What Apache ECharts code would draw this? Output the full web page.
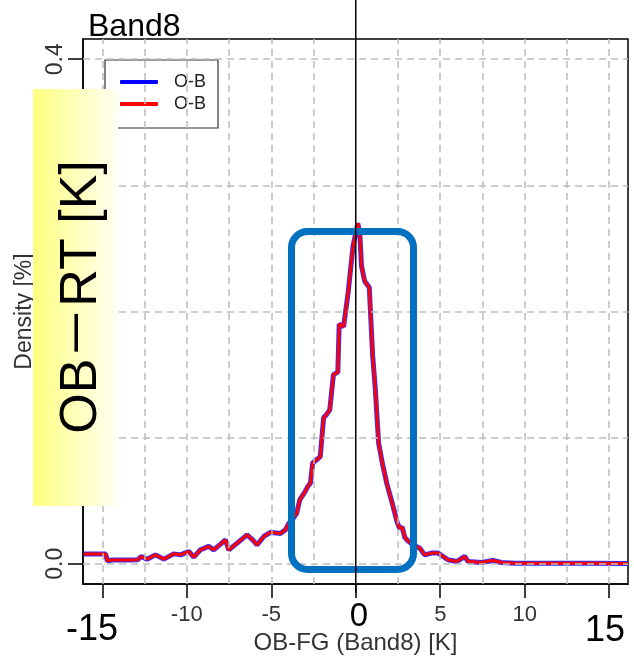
<!DOCTYPE html>
<html>
<head>
<meta charset="utf-8">
<script src="https://cdn.jsdelivr.net/npm/echarts@6/dist/echarts.min.js"></script>
<style>
html,body{margin:0;padding:0;background:#fff}
#main{width:634px;height:657px}
</style>
</head>
<body>
<div id="main"></div>
<script>
// OB-FG offsets [K] and density
var offsets = [-16.1, -14.8, -14.7, -14.4, -13.5, -12.9, -12.7, -12.35, -11.85, -11.36,
    -10.77, -10.37, -9.88, -9.59, -9.19, -8.7, -8.4, -8.0, -7.71, -7.51,
    -7.02, -6.43, -6.1, -5.84, -5.44, -5.05, -4.46, -4.16, -3.96, -3.7,
    -3.5, -3.31, -3.05, -2.85, -2.68, -2.55, -2.35, -2.1, -1.9, -1.75,
    -1.54, -1.32, -1.06, -0.98, -0.72, -0.45, -0.16, 0.12, 0.24, 0.34,
    0.53, 0.8, 1.0, 1.15, 1.35, 1.6, 1.85, 2.2, 2.45, 2.6,
    2.75, 2.9, 3.1, 3.39, 3.79, 4.08, 4.48, 4.87, 5.46, 5.96,
    6.45, 6.65, 7.44, 8.12, 8.62, 9.41, 10.2, 12, 14, 16.1];
var density = [0.0077, 0.0077, 0.0024, 0.003, 0.003, 0.0032, 0.0058, 0.0037, 0.0071, 0.0037,
    0.0079, 0.0071, 0.0098, 0.0053, 0.0111, 0.0138, 0.0111, 0.0156, 0.019, 0.011,
    0.0164, 0.023, 0.019, 0.015, 0.0217, 0.025, 0.024, 0.027, 0.032, 0.036,
    0.04, 0.0508, 0.056, 0.061, 0.064, 0.08, 0.082, 0.085, 0.116, 0.118,
    0.122, 0.15, 0.152, 0.19, 0.188, 0.215, 0.252, 0.27, 0.262, 0.236,
    0.224, 0.219, 0.165, 0.14, 0.096, 0.078, 0.063, 0.046, 0.033, 0.028,
    0.029, 0.021, 0.018, 0.0151, 0.0124, 0.0071, 0.0085, 0.0085, 0.0032, 0.0018,
    0.0058, 0.0018, 0.001, 0.0026, 0.001, 0.0005, 0.0005, 0.0004, 0.0004, 0.0003];

var xTicks = [-15, -10, -5, 0, 5, 10, 15];
var xTickLabels = [-10, -5, 5, 10];
var xGrid = [-15, -12.5, -10, -7.5, -5, -2.5, 2.5, 5, 7.5, 10, 12.5, 15];
var yTicks = [0, 0.1, 0.2, 0.3, 0.4];

var chart = echarts.init(document.getElementById('main'), null, {renderer: 'canvas'});

var points = offsets.map(function (x, i) { return [x, density[i]]; });

var gridMarks = xGrid.map(function (v) { return {xAxis: v}; })
    .concat(yTicks.map(function (v) { return {yAxis: v}; }));

var option = {
    animation: false,
    backgroundColor: '#fff',
    textStyle: {fontFamily: 'Liberation Sans'},
    title: {
        text: 'Band8',
        left: 83,
        top: 6,
        textStyle: {fontSize: 32, fontWeight: 'normal', color: '#000'}
    },
    legend: {
        orient: 'vertical',
        left: 105,
        top: 60,
        backgroundColor: '#fff',
        borderColor: '#333',
        borderWidth: 1.2,
        borderRadius: 0,
        padding: [13, 12, 15, 15],
        itemWidth: 38,
        itemHeight: 4,
        itemGap: 4,
        icon: 'roundRect',
        data: ['O-B blue', 'O-B red'],
        formatter: function () { return 'O-B'; },
        textStyle: {fontSize: 18, color: '#222', padding: [0, 0, 0, 11]}
    },
    grid: {
        left: 83,
        right: 6,
        top: 39,
        bottom: 73,
        outerBoundsMode: 'none',
        show: true,
        borderColor: '#000',
        borderWidth: 1.5
    },
    xAxis: {
        type: 'value',
        min: -16.14,
        max: 16.11,
        name: 'OB-FG (Band8) [K]',
        nameLocation: 'middle',
        nameGap: 47,
        nameTextStyle: {fontSize: 24, color: '#333'},
        axisLine: {show: true, onZero: false, lineStyle: {color: '#000', width: 1.5}},
        axisTick: {customValues: xTicks, length: 14, lineStyle: {color: '#000', width: 1.5}},
        axisLabel: {customValues: xTickLabels, fontSize: 22, color: '#333', margin: 20},
        splitLine: {show: false}
    },
    yAxis: {
        type: 'value',
        min: -0.016,
        max: 0.416,
        name: 'Density [%]',
        nameLocation: 'middle',
        nameGap: 47,
        nameTextStyle: {fontSize: 23, color: '#333'},
        axisLine: {show: true, onZero: false, lineStyle: {color: '#000', width: 1.5}},
        axisTick: {customValues: yTicks, length: 15, lineStyle: {color: '#000', width: 1.5}},
        axisLabel: {
            customValues: yTicks,
            rotate: 90,
            fontSize: 23,
            color: '#333',
            margin: 16,
            formatter: function (v) { return v.toFixed(1); }
        },
        splitLine: {show: false}
    },
    series: [
        {
            name: 'grid',
            type: 'line',
            data: [],
            z: 1,
            silent: true,
            markLine: {
                silent: true,
                symbol: 'none',
                label: {show: false},
                lineStyle: {color: '#bdbdbd', width: 1.5, type: [7, 5]},
                data: gridMarks
            }
        },
        {
            name: 'O-B blue',
            type: 'line',
            data: points,
            symbol: 'none',
            z: 3,
            silent: true,
            itemStyle: {color: '#0000ff'},
            lineStyle: {color: '#3a2cff', width: 5}
        },
        {
            name: 'O-B red',
            type: 'line',
            data: points,
            symbol: 'none',
            z: 4,
            silent: true,
            itemStyle: {color: '#ff0000'},
            lineStyle: {color: '#ff0000', width: 3}
        }
    ]
};

chart.setOption(option);

// annotation layer: zero line, highlight box, yellow label, large tick numbers
var zeroX = chart.convertToPixel({xAxisIndex: 0}, 0);
var bigFont = {fontSize: 36, fontFamily: 'Liberation Sans', fill: '#000', align: 'center', verticalAlign: 'middle'};

chart.setOption({
    graphic: [
        {
            type: 'line', z: 60, silent: true,
            shape: {x1: zeroX, y1: 0, x2: zeroX, y2: 593},
            style: {stroke: '#000', lineWidth: 1.5}
        },
        {
            type: 'rect', z: 55, silent: true,
            shape: {x: 291.5, y: 231.5, width: 122, height: 338, r: 16},
            style: {fill: 'none', stroke: '#0070c0', lineWidth: 7}
        },
        {
            type: 'rect', z: 70, silent: true,
            shape: {x: 33, y: 89, width: 85, height: 417},
            style: {
                fill: new echarts.graphic.LinearGradient(0, 0, 1, 0, [
                    {offset: 0, color: '#ffff80'},
                    {offset: 1, color: '#fffff2'}
                ])
            }
        },
        {
            type: 'text', z: 71, silent: true,
            x: 82, y: 297, rotation: Math.PI / 2,
            style: {
                text: 'OB－RT [K]',
                fontSize: 52,
                fontFamily: '"Liberation Sans", "Noto Sans CJK JP"',
                fill: '#000',
                align: 'center',
                verticalAlign: 'middle'
            }
        },
        {type: 'text', z: 71, silent: true, x: 92, y: 630, style: Object.assign({text: '-15'}, bigFont)},
        {type: 'text', z: 71, silent: true, x: 359, y: 617, style: Object.assign({text: '0'}, bigFont, {fontSize: 33})},
        {type: 'text', z: 71, silent: true, x: 605, y: 631, style: Object.assign({text: '15'}, bigFont)}
    ]
});
</script>
</body>
</html>
